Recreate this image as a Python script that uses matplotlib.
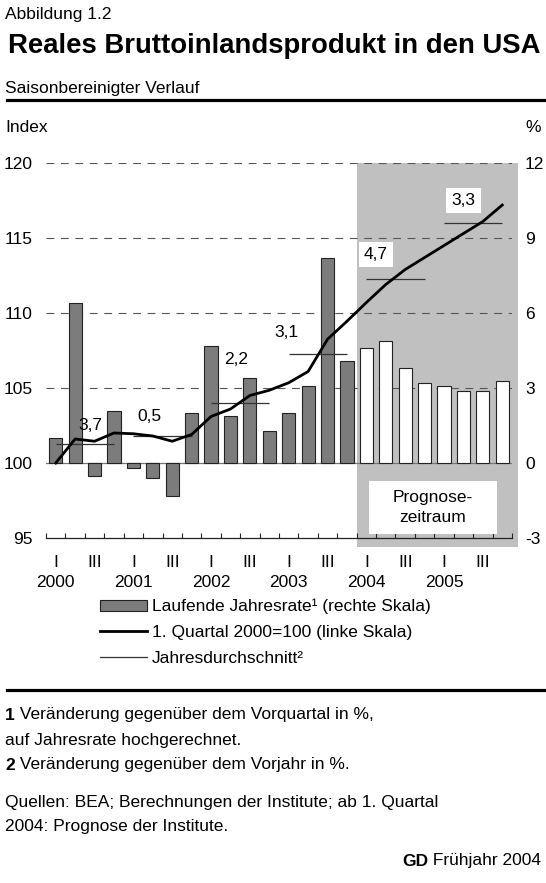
import numpy as np
import matplotlib.pyplot as plt
from matplotlib.patches import Patch, Rectangle
from matplotlib.lines import Line2D

plt.rcParams['font.family'] = ['Liberation Sans', 'DejaVu Sans']
plt.rcParams['axes.unicode_minus'] = False

# data
years = ['2000', '2001', '2002', '2003', '2004', '2005']
quarter_marks = ['I', '', 'III', '']
# annualised quarter-on-quarter growth, % (right scale)
rate = [1.0, 6.4, -0.5, 2.1, -0.2, -0.6, -1.3, 2.0, 4.7, 1.9, 3.4, 1.3,
        2.0, 3.1, 8.2, 4.1, 4.6, 4.9, 3.8, 3.2, 3.1, 2.9, 2.9, 3.3]
# index 1. Quartal 2000 = 100 (left scale)
index = [100.0, 101.6, 101.45, 102.0, 101.95, 101.8, 101.45, 101.9,
         103.1, 103.6, 104.5, 104.85, 105.35, 106.1, 108.25, 109.45,
         110.7, 111.9, 112.9, 113.7, 114.5, 115.3, 116.1, 117.2]
avg_level = [101.26, 101.8, 104.0, 107.27, 112.3, 116.0]
avg_growth = ['3,7', '0,5', '2,2', '3,1', '4,7', '3,3']
forecast_start = 16

W, H = 546, 883
def fx(px):
    return px / W
def fy(py):
    return 1 - py / H

fig = plt.figure(figsize=(W / 100, H / 100), dpi=100)
fs = 12.5

ax2 = fig.add_axes([fx(46), fy(538), (512 - 46) / W, (538 - 163) / H])
ax = ax2.twinx()
ax.yaxis.tick_left()
ax2.yaxis.tick_right()

n = len(rate)
x = np.arange(n)
ax2.set_xlim(-0.5, n - 0.5)
ax2.set_ylim(-3, 12)
ax.set_ylim(95, 120)

# forecast shading and grid (right scale)
ax2.add_patch(Rectangle((forecast_start - 0.5, -3.36), n - forecast_start + 0.3, 15.36,
                        facecolor='#c0c0c0', edgecolor='none', clip_on=False, zorder=0))
for g in [3, 6, 9, 12]:
    ax2.axhline(g, color='#555555', lw=0.8, ls=(0, (7, 6)), zorder=1)
ax2.axhline(0, color='#777777', lw=0.9, zorder=1)

colors = ['#7c7c7c' if i < forecast_start else 'white' for i in range(n)]
ax2.bar(x, rate, width=0.68, color=colors, edgecolor='#222222', lw=0.8, zorder=2)

# index line and yearly averages (left scale)
ax.plot(x, index, color='black', lw=2.0, zorder=5)
for k, lvl in enumerate(avg_level):
    ax.hlines(lvl, 4 * k, 4 * k + 3, color='#333333', lw=0.9, zorder=4)

label_pos = [(1.77, 102.5), (4.85, 103.1), (9.3, 106.9), (11.86, 108.7),
             (16.5, 113.9), (21.0, 117.5)]
for k, (lx, ly) in enumerate(label_pos):
    if k >= 4:
        ax.text(lx, ly, avg_growth[k], ha='center', va='center', fontsize=fs, zorder=6,
                bbox=dict(boxstyle='square,pad=0.3', facecolor='white', edgecolor='none'))
    else:
        ax.text(lx, ly, avg_growth[k], ha='center', va='center', fontsize=fs, zorder=6)

ax.add_patch(Rectangle((16.13, 95.25), 6.6, 3.55, facecolor='white',
                       edgecolor='none', zorder=6))
ax.text(19.43, 97.05, 'Prognose-\nzeitraum', ha='center', va='center',
        fontsize=fs, linespacing=1.45, zorder=7)

# axes styling
for a in (ax, ax2):
    for s in ['top', 'left', 'right']:
        a.spines[s].set_visible(False)
ax.spines['bottom'].set_visible(False)
ax2.spines['bottom'].set_color('#222222')
ax2.spines['bottom'].set_linewidth(0.9)
ax2.spines['bottom'].set_zorder(3)

ax.set_yticks([95, 100, 105, 110, 115, 120])
ax.tick_params(axis='y', length=0, pad=9.4, labelsize=fs)
ax2.set_yticks([-3, 0, 3, 6, 9, 12])
ax2.tick_params(axis='y', length=0, pad=9.4, labelsize=fs)

ax2.set_xticks(np.arange(n + 1) - 0.5)
ax2.set_xticklabels([])
ax2.tick_params(axis='x', which='major', direction='in', length=3.5, width=0.8,
                color='#222222')
ax2.set_xticks(x, minor=True)
xlabels = []
for i in range(n):
    q = quarter_marks[i % 4]
    if i % 4 == 0:
        q = q + '\n' + years[i // 4]
    xlabels.append(q)
ax2.set_xticklabels(xlabels, minor=True)
ax2.tick_params(axis='x', which='minor', length=0, pad=12, labelsize=fs)
for t in ax2.get_xticklabels(minor=True):
    t.set_linespacing(1.45)

# header
fig.text(fx(5), fy(15), 'Abbildung 1.2', fontsize=fs, va='center')
fig.text(fx(8), fy(46), 'Reales Bruttoinlandsprodukt in den USA', fontsize=19.8,
         fontweight='bold', va='center')
fig.text(fx(5), fy(88), 'Saisonbereinigter Verlauf', fontsize=fs, va='center')
fig.add_artist(Line2D([fx(7), 1], [fy(100), fy(100)], lw=2.3, color='black'))
fig.text(fx(5), fy(128), 'Index', fontsize=fs, va='center')
fig.text(fx(541), fy(128), '%', fontsize=fs, va='center', ha='right')

# legend
handles = [Patch(facecolor='#7c7c7c', edgecolor='#222222', lw=0.8),
           Line2D([], [], color='black', lw=2.0),
           Line2D([], [], color='#333333', lw=0.9)]
labels = ['Laufende Jahresrate¹ (rechte Skala)', '1. Quartal 2000=100 (linke Skala)',
          'Jahresdurchschnitt²']
fig.legend(handles, labels, loc='upper left', bbox_to_anchor=(fx(100), fy(599)),
           frameon=False, fontsize=fs, handlelength=2.7, handleheight=0.65,
           handletextpad=0.3, labelspacing=0.62, borderpad=0, borderaxespad=0)

# footer
fig.add_artist(Line2D([fx(7), 1], [fy(690), fy(690)], lw=2.3, color='black'))
t1 = fig.text(fx(5), fy(715), '1', fontsize=fs, fontweight='bold', va='center')
ax.annotate(' Veränderung gegenüber dem Vorquartal in %,', xy=(1, 0), xycoords=t1,
            va='bottom', ha='left', fontsize=fs, annotation_clip=False)
fig.text(fx(5), fy(740), 'auf Jahresrate hochgerechnet.', fontsize=fs, va='center')
t2 = fig.text(fx(5), fy(765), '2', fontsize=fs, fontweight='bold', va='center')
ax.annotate(' Veränderung gegenüber dem Vorjahr in %.', xy=(1, 0), xycoords=t2,
            va='bottom', ha='left', fontsize=fs, annotation_clip=False)
fig.text(fx(5), fy(802), 'Quellen: BEA; Berechnungen der Institute; ab 1. Quartal',
         fontsize=fs, va='center')
fig.text(fx(5), fy(827), '2004: Prognose der Institute.', fontsize=fs, va='center')
t3 = fig.text(fx(541), fy(861), ' Frühjahr 2004', fontsize=fs, va='center', ha='right')
ax.annotate('GD', xy=(0, 0), xycoords=t3, va='bottom', ha='right', fontsize=fs,
            fontweight='bold', annotation_clip=False)

fig.savefig('out.png', dpi=100)
